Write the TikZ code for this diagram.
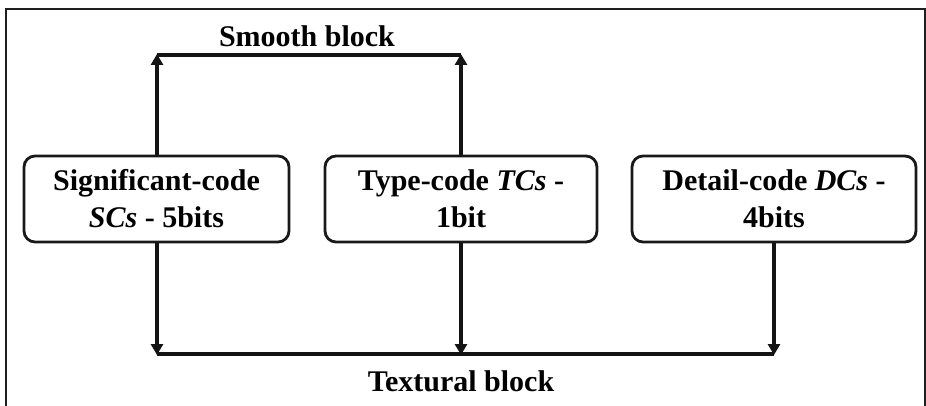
\documentclass[tikz,border=0pt]{standalone}
\usepackage{fontspec}
\setmainfont{Liberation Serif}
\usetikzlibrary{arrows.meta}
\begin{document}
\begin{tikzpicture}[x=1pt,y=-1pt,
  font=\fontsize{30}{37}\selectfont\bfseries,
  codebox/.style={draw=black!90, line width=2.8pt, rounded corners=11pt, align=center, minimum height=86pt, inner sep=0pt},
  conn/.style={draw=black!92, line width=3.5pt},
  arr/.style={conn, -{Triangle[width=12pt,length=11pt]}, shorten >=-1pt},
  lbl/.style={inner sep=0pt}]
\useasboundingbox (0,0) rectangle (926,406);
\draw[draw=black!88, line width=2.8pt] (6,406) -- (6,9) -- (925,9) -- (925,406);
\node[codebox, minimum width=265pt] (sc) at (156.5,199) {Significant-code\\\textit{SCs} - 5bits};
\node[codebox, minimum width=272pt] (tc) at (461,199) {Type-code \textit{TCs} -\\1bit};
\node[codebox, minimum width=284pt] (dc) at (774,199) {Detail-code \textit{DCs} -\\4bits};
\coordinate (s1) at (157,55);
\coordinate (s2) at (461,55);
\coordinate (t1) at (157,354);
\coordinate (t2) at (461,354);
\coordinate (t3) at (774,354);
\node[lbl] (smooth) at (307,36) {Smooth block};
\node[lbl] (textural) at (461,381) {Textural block};
\draw[arr] (sc.north -| s1) -- (s1);
\draw[arr] (tc.north) -- (s2);
\draw[conn] (s1) -- (s2);
\draw[arr] (sc.south -| t1) -- (t1);
\draw[arr] (tc.south) -- (t2);
\draw[arr] (dc.south) -- (t3);
\draw[conn] (t1) -- (t3);
\end{tikzpicture}
\end{document}
